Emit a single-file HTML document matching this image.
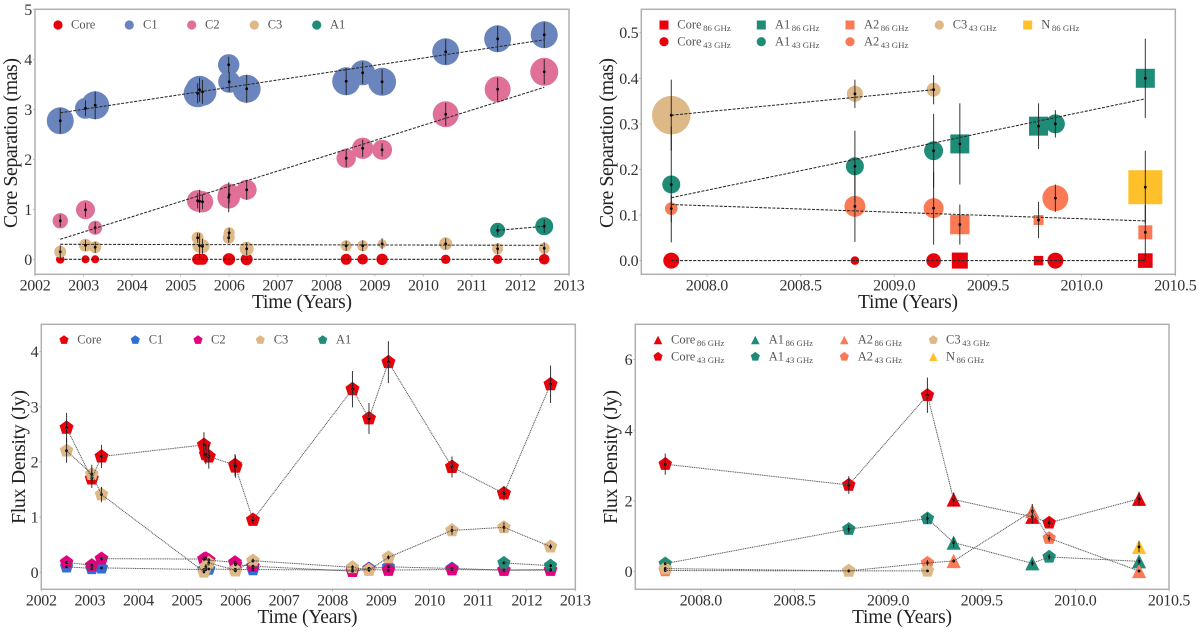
<!DOCTYPE html>
<html lang="en">
<head>
<meta charset="utf-8">
<title>Core separation and flux density</title>
<style>
html,body{margin:0;padding:0;background:#fff;width:1200px;height:632px;overflow:hidden}
svg{display:block}
text{font-family:"Liberation Serif",serif}
</style>
</head>
<body>
<svg id="fig" xmlns="http://www.w3.org/2000/svg" width="1200" height="632" viewBox="0 0 1200 632"></svg>
<script>
// ---- Panel data: long-term epochs (top-left, bottom-left) ----
const epochs = [2002.52,2003.04,2003.24,2005.35,2005.39,2005.45,2005.99,2006.00,2006.36,2008.41,2008.75,2009.15,2010.46,2011.53,2012.49];
const a1Epochs = [2011.53,2012.49];
const longXTicks = [2002,2003,2004,2005,2006,2007,2008,2009,2010,2011,2012,2013];
const sepYTicks = [0,1,2,3,4,5];
const fluxYTicks = [0,1,2,3,4];

const coreSep = [0,0,0,0,0,0,0,0,0,0,0,0,0,0,0];
const coreSepSize = [.43,.4,.4,.55,.55,.55,.6,.6,.6,.55,.53,.57,.47,.47,.53];
const c1Sep = [2.77,3.02,3.08,3.32,3.39,3.35,3.89,3.55,3.41,3.56,3.73,3.55,4.15,4.41,4.49];
const c1SepErr = [.25,.16,.28,.2,.24,.24,.16,.2,.28,.27,.22,.25,.25,.26,.26];
const c1SepSize = [1.35,1.05,1.4,1.4,1.4,1.4,1.07,1.1,1.4,1.4,1.25,1.4,1.35,1.35,1.35];
const c2Sep = [.77,.99,.63,1.17,1.16,1.15,1.24,1.29,1.39,2.02,2.22,2.19,2.90,3.40,3.75];
const c2SepErr = [.12,.14,.12,.15,.23,.15,.3,.17,.2,.17,.17,.13,.23,.23,.25];
const c2SepSize = [.77,.95,.7,1.07,1.07,1.07,1.13,1.13,1.0,.97,1.07,1.0,1.3,1.3,1.4];
const c3Sep = [.15,.28,.24,.43,.27,.26,.43,.53,.21,.27,.27,.31,.31,.21,.22];
const c3SepErr = [.13,.11,.11,.1,.25,.15,.1,.1,.13,.1,.11,.11,.11,.11,.12];
const c3SepSize = [.6,.65,.6,.6,.7,.7,.6,.55,.7,.55,.55,.45,.65,.55,.55];
const a1Sep = [.58,.66];
const a1SepErr = [.1,.13];
const a1SepSize = [.75,.9];
const c1Fit = [2.93,4.39];
const c2Fit = [.40,3.44];
const c3Fit = [.30,.28];
const coreFit = [0,0];

const coreFlux = [2.62,1.70,2.10,2.31,2.14,2.10,1.945,1.915,.95,3.32,2.79,3.81,1.91,1.43,3.41];
const coreFluxErr = [.27,.17,.21,.23,.18,.22,.2,.2,.06,.33,.28,.38,.19,.13,.34];
const c1Flux = [.10,.07,.08,.05,.05,.06,.05,.05,.05,.04,.07,.10,.07,.04,.05];
const c1FluxErr = [.02,.02,.02,.02,.02,.02,.02,.02,.02,.02,.02,.02,.02,.02,.02];
const c2Flux = [.18,.127,.247,.24,.25,.22,.18,.14,.11,.02,.05,.04,.05,.04,.04];
const c2FluxErr = [.03,.03,.04,.04,.04,.04,.03,.03,.03,.02,.02,.02,.02,.02,.02];
const c3Flux = [2.205,1.78,1.41,.01,.10,.17,.04,.03,.21,.09,.04,.27,.76,.815,.465];
const c3FluxErr = [.22,.17,.14,.03,.05,.05,.03,.03,.04,.04,.03,.04,.08,.09,.05];
const a1Flux = [.17,.12];
const a1FluxErr = [.03,.03];

// ---- Panel data: multi-frequency epochs (top-right, bottom-right) ----
const freqEpochs = [2007.81,2008.79,2009.21,2009.35,2009.77,2009.86,2010.34];
const freqBands = ['43','43','43','86','86','43','86'];
const c3FreqEpochs = [2007.81,2008.79,2009.21];
const c3FreqBands = ['43','43','43'];
const nEpochs = [2010.34];
const nBands = ['86'];
const freqXTicks = [2008.0,2008.5,2009.0,2009.5,2010.0,2010.5];
const freqSepYTicks = [0.0,0.1,0.2,0.3,0.4,0.5];
const freqFluxYTicks = [0,2,4,6];

const coreFreqSep = [0,0,0,0,0,0,0];
const coreFreqSepSize = [.8,.43,.73,.8,.47,.8,.73];
const a1FreqSep = [.167,.207,.241,.256,.295,.300,.400];
const a1FreqSepErr = [.127,.078,.081,.089,.05,.03,.087];
const a1FreqSepSize = [.9,.9,.95,.95,.95,.95,.95];
const a2FreqSep = [.114,.119,.115,.079,.089,.137,.062];
const a2FreqSepErr = [.03,.078,.08,.044,.04,.03,.06];
const a2FreqSepSize = [.63,1.05,1.0,.97,.5,1.3,.7];
const c3FreqSep = [.319,.366,.375];
const c3FreqSepErr = [.078,.031,.032];
const c3FreqSepSize = [1.93,.8,.7];
const nFreqSep = [.161];
const nFreqSepErr = [.08];
const nFreqSepSize = [1.7];
const freqFitEpochs = [2007.81,2010.34];
const a1FreqFit = [.138,.355];
const a2FreqFit = [.123,.087];
const coreFreqFit = [0,0];
const c3FreqFit = [.319,.375];

const coreFreqFlux = [3.04,2.45,4.99,2.04,1.55,1.38,2.06];
const coreFreqFluxErr = [.3,.25,.5,.2,.2,.12,.2];
const a1FreqFlux = [.225,1.2,1.5,.82,.235,.415,.29];
const a1FreqFluxErr = [.05,.12,.15,.14,.08,.08,.1];
const a2FreqFlux = [.03,.02,.245,.30,1.71,.945,.017];
const a2FreqFluxErr = [.03,.03,.08,.05,.2,.1,.03];
const c3FreqFlux = [.085,.02,.02];
const c3FreqFluxErr = [.05,.03,.03];
const nFreqFlux = [.70];
const nFreqFluxErr = [.15];

// ---- Rendering ----
const NS = 'http://www.w3.org/2000/svg';
const fig = document.getElementById('fig');
const RED='#e8000b', C1B='#6a84bd', C2B='#e07098', TAN='#deb887', GREEN='#1f8c78', CORAL='#fb7a56', GOLD='#ffc12b', BLUE='#2f6fd8', MAG='#e5007f';

function make(tag, parent, attrs, name) {
  const el = document.createElementNS(NS, tag);
  for (const k in attrs) el.setAttribute(k, attrs[k]);
  
  
  parent.appendChild(el);
  return el;
}
function label(parent, x, y, str, size, fill, anchor, name) {
  const t = make('text', parent, {x:x, y:y, 'font-size':size, fill:fill, 'text-anchor':anchor}, name);
  t.textContent = str;
  return t;
}
function axes(name, L, T, R, B, xd, yd, xTicks, yTicks, xFmt, yFmt, tickFont) {
  const g = make('g', fig, {}, name);
  const x = v => L + (v - xd[0]) / (xd[1] - xd[0]) * (R - L);
  const y = v => B - (v - yd[0]) / (yd[1] - yd[0]) * (B - T);
  make('rect', g, {x:L, y:T, width:R-L, height:B-T, fill:'#fff', stroke:'#b0b0b0', 'stroke-width':1.5}, 'plot-frame');
  xTicks.forEach(v => {
    make('line', g, {x1:x(v), x2:x(v), y1:B, y2:B+2, stroke:'#aaa', 'stroke-width':.8}, 'x-tick');
    const t = label(g, x(v), B+16, xFmt(v), tickFont, '#333', 'middle', 'x-tick-label');
    t.setAttribute('letter-spacing', '-0.3');
  });
  yTicks.forEach(v => {
    make('line', g, {x1:L-2, x2:L, y1:y(v), y2:y(v), stroke:'#aaa', 'stroke-width':.8}, 'y-tick');
    const t = label(g, L-3, y(v)+5.5, yFmt(v), tickFont, '#333', 'end', 'y-tick-label');
    t.setAttribute('letter-spacing', '-0.3');
  });
  const layers = {
    marks: make('g', g, {}, 'markers'),
    over: make('g', g, {}, 'lines-and-error-bars')
  };
  return {g, x, y, layers};
}
function shape(parent, kind, cx, cy, r, color, name) {
  if (kind === 'circle') return make('circle', parent, {cx:cx, cy:cy, r:r, fill:color}, name);
  if (kind === 'square') return make('rect', parent, {x:cx-r, y:cy-r, width:2*r, height:2*r, fill:color}, name);
  let pts;
  if (kind === 'triangle') pts = [[cx,cy-r],[cx+r,cy+r],[cx-r,cy+r]];
  else pts = [0,1,2,3,4].map(i => { const a = -Math.PI/2 + i*2*Math.PI/5; return [cx+r*Math.cos(a), cy+r*Math.sin(a)]; });
  return make('polygon', parent, {points: pts.map(p => p[0].toFixed(2)+','+p[1].toFixed(2)).join(' '), fill:color}, name);
}
// sizes are in bubble units; radius in pixels = size * 10
function series(ax, name, color, ts, vals, errs, sizes, kindOf, fixedR) {
  ts.forEach((t, i) => {
    const r = sizes ? sizes[i]*10 : fixedR;
    shape(ax.layers.marks, kindOf(i), ax.x(t), ax.y(vals[i]), r, color, name+'-marker');
  });
  ts.forEach((t, i) => {
    if (errs && errs[i] > 0) {
      make('line', ax.layers.over, {x1:ax.x(t), x2:ax.x(t), y1:ax.y(vals[i]-errs[i]), y2:ax.y(vals[i]+errs[i]), stroke:'#1c1c1c', 'stroke-opacity':.85, 'stroke-width':1.05}, name+'-error-bar');
    }
    if (errs) make('circle', ax.layers.over, {cx:ax.x(t), cy:ax.y(vals[i]), r:1.4, fill:'#000'}, name+'-point');
  });
}
function fit(ax, name, ts, vals) {
  make('line', ax.layers.over, {x1:ax.x(ts[0]), y1:ax.y(vals[0]), x2:ax.x(ts[1]), y2:ax.y(vals[1]), stroke:'#2a2a2a', 'stroke-width':1.05, 'stroke-dasharray':'3 1.4'}, name);
}
function path(ax, name, ts, vals) {
  const d = ts.map((t,i) => ax.x(t).toFixed(2)+','+ax.y(vals[i]).toFixed(2)).join(' ');
  make('polyline', ax.layers.over, {points:d, fill:'none', stroke:'#555', 'stroke-width':1, 'stroke-dasharray':'1.1 .7'}, name);
}
function legendEntry(ax, kind, color, mx, tx, cy, r, txt, sub, name) {
  const g = make('g', ax.g, {}, name);
  shape(g, kind, mx, cy, r, color, name+'-marker');
  const t = make('text', g, {x:tx, y:cy+3.6, 'font-size':12.5, fill:'#555'}, name+'-label');
  const a = document.createElementNS(NS, 'tspan');
  a.textContent = txt;
  t.appendChild(a);
  if (sub) {
    const b = document.createElementNS(NS, 'tspan');
    b.setAttribute('font-size', '8.8');
    b.setAttribute('dy', '2.5');
    b.setAttribute('dx', '1.5');
    b.textContent = sub;
    t.appendChild(b);
  }
}
function titles(ax, xLabel, xc, xb, xw, yLabel, ylx, yc, yw) {
  const xt = label(ax.g, xc, xb, xLabel, 19.5, '#222', 'middle', 'x-axis-title');
  xt.setAttribute('textLength', xw);
  const yt = label(ax.g, 0, 0, yLabel, 20, '#222', 'middle', 'y-axis-title');
  yt.setAttribute('transform', 'translate('+ylx+','+yc+') rotate(-90)');
  yt.setAttribute('textLength', yw);
}
const yearFmt = v => String(v);
const yearFmt1 = v => v.toFixed(1);
const intFmt = v => String(v);
const tenthFmt = v => v.toFixed(1);

// ---- Top-left: core separation vs. time ----
const A = axes('core-separation-panel-long', 35, 9.3, 569, 274.3, [2002,2013], [-.3,5], longXTicks, sepYTicks, yearFmt, intFmt, 16);
titles(A, 'Time (Years)', 302, 308, 100, 'Core Separation (mas)', 17, 143, 170);
const circ = () => 'circle';
series(A, 'core', RED, epochs, coreSep, null, coreSepSize, circ);
series(A, 'c1', C1B, epochs, c1Sep, c1SepErr, c1SepSize, circ);
series(A, 'c2', C2B, epochs, c2Sep, c2SepErr, c2SepSize, circ);
series(A, 'c3', TAN, epochs, c3Sep, c3SepErr, c3SepSize, circ);
series(A, 'a1', GREEN, a1Epochs, a1Sep, a1SepErr, a1SepSize, circ);
fit(A, 'core-fit-line', [epochs[0],epochs[14]], coreFit);
fit(A, 'c1-fit-line', [epochs[0],epochs[14]], c1Fit);
fit(A, 'c2-fit-line', [epochs[0],epochs[14]], c2Fit);
fit(A, 'c3-fit-line', [epochs[0],epochs[14]], c3Fit);
fit(A, 'a1-fit-line', a1Epochs, a1Sep);
legendEntry(A, 'circle', RED, 58, 71, 25, 4.6, 'Core', '', 'legend-core');
legendEntry(A, 'circle', C1B, 129.3, 143, 25, 4.6, 'C1', '', 'legend-c1');
legendEntry(A, 'circle', C2B, 191.7, 205, 25, 4.6, 'C2', '', 'legend-c2');
legendEntry(A, 'circle', TAN, 254.3, 267.7, 25, 4.6, 'C3', '', 'legend-c3');
legendEntry(A, 'circle', GREEN, 316.7, 330, 25, 4.6, 'A1', '', 'legend-a1');

// ---- Top-right: core separation, multi-frequency ----
const B = axes('core-separation-panel-multifrequency', 641.3, 9.3, 1175.3, 274.3, [2007.65,2010.5], [-.0301,.5514], freqXTicks, freqSepYTicks, yearFmt1, tenthFmt, 16);
titles(B, 'Time (Years)', 908, 308, 100, 'Core Separation (mas)', 613, 143, 170);
const sepKind = bands => i => bands[i] === '86' ? 'square' : 'circle';
series(B, 'core', RED, freqEpochs, coreFreqSep, null, coreFreqSepSize, sepKind(freqBands));
series(B, 'a1', GREEN, freqEpochs, a1FreqSep, a1FreqSepErr, a1FreqSepSize, sepKind(freqBands));
series(B, 'a2', CORAL, freqEpochs, a2FreqSep, a2FreqSepErr, a2FreqSepSize, sepKind(freqBands));
series(B, 'c3', TAN, c3FreqEpochs, c3FreqSep, c3FreqSepErr, c3FreqSepSize, sepKind(c3FreqBands));
series(B, 'n', GOLD, nEpochs, nFreqSep, nFreqSepErr, nFreqSepSize, sepKind(nBands));
fit(B, 'core-fit-line', freqFitEpochs, coreFreqFit);
fit(B, 'a1-fit-line', freqFitEpochs, a1FreqFit);
fit(B, 'a2-fit-line', freqFitEpochs, a2FreqFit);
fit(B, 'c3-fit-line', [c3FreqEpochs[0],c3FreqEpochs[2]], c3FreqFit);
legendEntry(B, 'square', RED, 664, 677.3, 25, 4.5, 'Core', '86 GHz', 'legend-core-86');
legendEntry(B, 'circle', RED, 664, 677.3, 41.7, 4.6, 'Core', '43 GHz', 'legend-core-43');
legendEntry(B, 'square', GREEN, 761.3, 775, 25, 4.5, 'A1', '86 GHz', 'legend-a1-86');
legendEntry(B, 'circle', GREEN, 761.3, 775, 41.7, 4.6, 'A1', '43 GHz', 'legend-a1-43');
legendEntry(B, 'square', CORAL, 850, 864, 25, 4.5, 'A2', '86 GHz', 'legend-a2-86');
legendEntry(B, 'circle', CORAL, 850, 864, 41.7, 4.6, 'A2', '43 GHz', 'legend-a2-43');
legendEntry(B, 'circle', TAN, 939.3, 952.7, 25, 4.6, 'C3', '43 GHz', 'legend-c3-43');
legendEntry(B, 'square', GOLD, 1027.7, 1041.3, 25, 4.5, 'N', '86 GHz', 'legend-n-86');

// ---- Bottom-left: flux density vs. time ----
const C = axes('flux-density-panel-long', 41.3, 324.3, 575.3, 589.3, [2002,2013], [-.3083,4.4968], longXTicks, fluxYTicks, yearFmt, intFmt, 16);
titles(C, 'Time (Years)', 307.5, 623, 100, 'Flux Density (Jy)', 25, 457, 134);
const pent = () => 'pentagon';
series(C, 'core', RED, epochs, coreFlux, coreFluxErr, null, pent, 7.4);
series(C, 'c1', BLUE, epochs, c1Flux, c1FluxErr, null, pent, 7);
series(C, 'c2', MAG, epochs, c2Flux, c2FluxErr, null, pent, 7.2);
series(C, 'c3', TAN, epochs, c3Flux, c3FluxErr, null, pent, 7.2);
series(C, 'a1', GREEN, a1Epochs, a1Flux, a1FluxErr, null, pent, 7);
path(C, 'core-line', epochs, coreFlux);
path(C, 'c1-line', epochs, c1Flux);
path(C, 'c2-line', epochs, c2Flux);
path(C, 'c3-line', epochs, c3Flux);
path(C, 'a1-line', a1Epochs, a1Flux);
legendEntry(C, 'pentagon', RED, 64, 77.3, 340, 4.8, 'Core', '', 'legend-core');
legendEntry(C, 'pentagon', BLUE, 135.3, 148.7, 340, 4.8, 'C1', '', 'legend-c1');
legendEntry(C, 'pentagon', MAG, 198, 211, 340, 4.8, 'C2', '', 'legend-c2');
legendEntry(C, 'pentagon', TAN, 260.3, 273.7, 340, 4.8, 'C3', '', 'legend-c3');
legendEntry(C, 'pentagon', GREEN, 322.7, 336, 340, 4.8, 'A1', '', 'legend-a1');

// ---- Bottom-right: flux density, multi-frequency ----
const D = axes('flux-density-panel-multifrequency', 635.3, 324.3, 1169, 589.3, [2007.65,2010.5], [-.5014,6.9972], freqXTicks, freqFluxYTicks, yearFmt1, intFmt, 16);
titles(D, 'Time (Years)', 902, 623, 100, 'Flux Density (Jy)', 617, 457, 134);
const fluxKind = bands => i => bands[i] === '86' ? 'triangle' : 'pentagon';
series(D, 'core', RED, freqEpochs, coreFreqFlux, coreFreqFluxErr, null, fluxKind(freqBands), 7.1);
series(D, 'a1', GREEN, freqEpochs, a1FreqFlux, a1FreqFluxErr, null, fluxKind(freqBands), 7.1);
series(D, 'a2', CORAL, freqEpochs, a2FreqFlux, a2FreqFluxErr, null, fluxKind(freqBands), 7.1);
series(D, 'c3', TAN, c3FreqEpochs, c3FreqFlux, c3FreqFluxErr, null, fluxKind(c3FreqBands), 7.1);
series(D, 'n', GOLD, nEpochs, nFreqFlux, nFreqFluxErr, null, fluxKind(nBands), 7.1);
path(D, 'core-line', freqEpochs, coreFreqFlux);
path(D, 'a1-line', freqEpochs, a1FreqFlux);
path(D, 'a2-line', freqEpochs, a2FreqFlux);
path(D, 'c3-line', c3FreqEpochs, c3FreqFlux);
legendEntry(D, 'triangle', RED, 658, 671, 340, 4.3, 'Core', '86 GHz', 'legend-core-86');
legendEntry(D, 'pentagon', RED, 658, 671, 356.7, 4.8, 'Core', '43 GHz', 'legend-core-43');
legendEntry(D, 'triangle', GREEN, 755.3, 768.7, 340, 4.3, 'A1', '86 GHz', 'legend-a1-86');
legendEntry(D, 'pentagon', GREEN, 755.3, 768.7, 356.7, 4.8, 'A1', '43 GHz', 'legend-a1-43');
legendEntry(D, 'triangle', CORAL, 844.3, 857.7, 340, 4.3, 'A2', '86 GHz', 'legend-a2-86');
legendEntry(D, 'pentagon', CORAL, 844.3, 857.7, 356.7, 4.8, 'A2', '43 GHz', 'legend-a2-43');
legendEntry(D, 'pentagon', TAN, 933.3, 946, 340, 4.8, 'C3', '43 GHz', 'legend-c3-43');
legendEntry(D, 'triangle', GOLD, 933.3, 946, 356.7, 4.3, 'N', '86 GHz', 'legend-n-86');
</script>
</body>
</html>
